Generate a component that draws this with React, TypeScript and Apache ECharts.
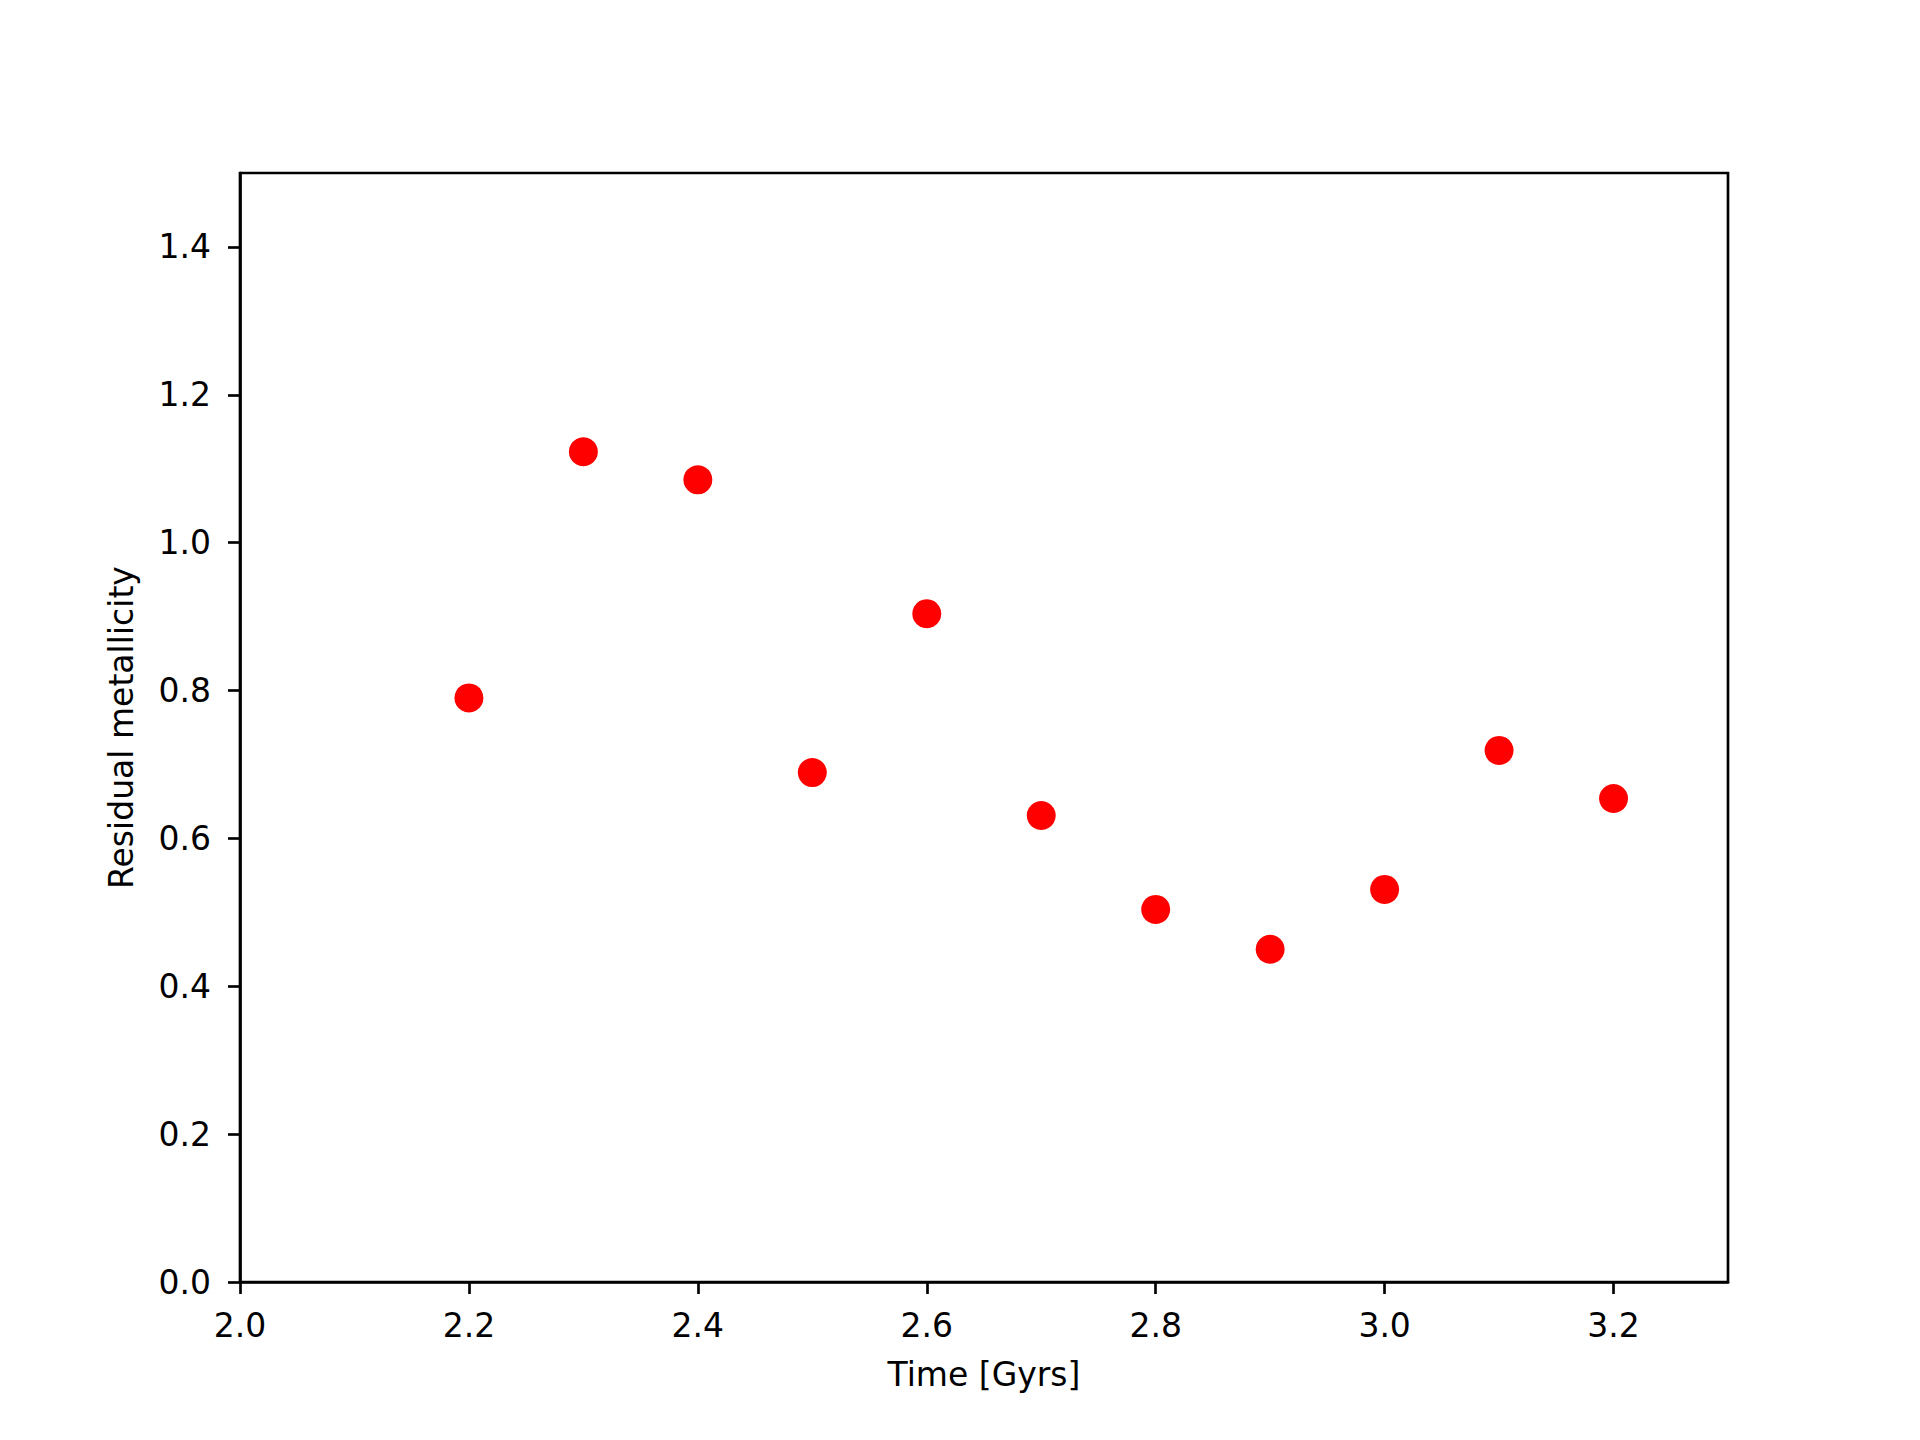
import React, { useEffect, useRef } from "react";
import * as echarts from "echarts";

const timeGyrs = [2.2, 2.3, 2.4, 2.5, 2.6, 2.7, 2.8, 2.9, 3.0, 3.1, 3.2];
const residualMetallicity = [0.790, 1.123, 1.085, 0.689, 0.904, 0.631, 0.504, 0.450, 0.531, 0.719, 0.654];
const xTicks = [2.0, 2.2, 2.4, 2.6, 2.8, 3.0, 3.2];
const yTicks = [0.0, 0.2, 0.4, 0.6, 0.8, 1.0, 1.2, 1.4];

const FONT = "DejaVu Sans";
const LW = 2.67;

export default function App() {
  const ref = useRef<HTMLDivElement>(null);
  useEffect(() => {
    if (!ref.current) return;
    const chart = echarts.init(ref.current, undefined, { renderer: "svg" });
    const axisCommon = {
      axisLine: { show: true, lineStyle: { color: "#000", width: LW } },
      splitLine: { show: false },
      nameLocation: "middle" as const,
      nameTextStyle: { fontFamily: FONT, fontSize: 33, color: "#000" },
    };
    chart.setOption({
      animation: false,
      backgroundColor: "#fff",
      textStyle: { fontFamily: FONT },
      grid: {
        left: 240,
        right: 192,
        top: 173,
        bottom: 158,
        show: true,
        borderColor: "#000",
        borderWidth: LW,
        backgroundColor: "transparent",
      },
      xAxis: {
        type: "value",
        min: 2.0,
        max: 3.3,
        ...axisCommon,
        name: "Time [Gyrs]",
        nameGap: 76,
        axisTick: {
          show: true,
          inside: false,
          length: 12,
          lineStyle: { color: "#000", width: LW },
          customValues: xTicks,
        },
        axisLabel: {
          show: true,
          margin: 27,
          fontFamily: FONT,
          fontSize: 33,
          color: "#000",
          customValues: xTicks,
          formatter: (v: number) => v.toFixed(1),
        },
      },
      yAxis: {
        type: "value",
        min: 0,
        max: 1.5,
        ...axisCommon,
        name: "Residual metallicity",
        nameGap: 102,
        axisTick: {
          show: true,
          inside: false,
          length: 12,
          lineStyle: { color: "#000", width: LW },
          customValues: yTicks,
        },
        axisLabel: {
          show: true,
          margin: 29,
          fontFamily: FONT,
          fontSize: 33,
          color: "#000",
          customValues: yTicks,
          formatter: (v: number) => v.toFixed(1),
        },
      },
      series: [
        {
          type: "scatter",
          data: timeGyrs.map((t, i) => [t, residualMetallicity[i]]),
          symbol: "circle",
          symbolSize: 29,
          itemStyle: { color: "#ff0000", opacity: 1 },
        },
      ],
    });
    return () => chart.dispose();
  }, []);
  return (
    <div
      ref={ref}
      style={{ position: "fixed", left: 0, top: 0, width: 1920, height: 1440 }}
    />
  );
}
